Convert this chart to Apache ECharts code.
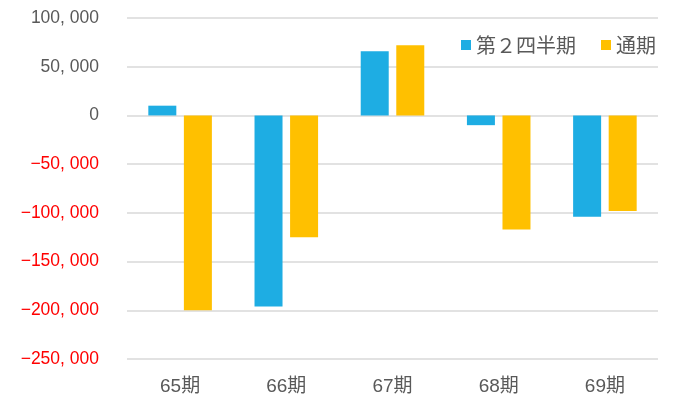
<!DOCTYPE html>
<html>
<head>
<meta charset="utf-8">
<script src="https://cdn.jsdelivr.net/npm/echarts@6/dist/echarts.min.js"></script>
<style>
  html, body { margin: 0; padding: 0; background: #fff; }
  #chart { width: 674px; height: 399px; }
</style>
</head>
<body>
<div id="chart"></div>
<script>
// Periods on the category axis
const periods = ['65期', '66期', '67期', '68期', '69期'];
// Second-quarter results
const secondQuarter = [10000, -196000, 66000, -10000, -104000];
// Full-year results
const fullYear = [-200000, -125000, 72000, -117000, -98000];
// Series names shown in the legend
const seriesNames = ['第２四半期', '通期'];

const numFont = '"Liberation Sans", "Noto Sans CJK JP", sans-serif';
const cjkFont = '"Noto Sans CJK JP", sans-serif';

function fmt(v) {
  if (v === 0) return '0';
  const s = Math.abs(v).toString().replace(/\B(?=(\d{3})+(?!\d))/g, ', ');
  return (v < 0 ? '\u2212' : '') + s;
}

const chart = echarts.init(document.getElementById('chart'), null, { renderer: 'canvas' });
chart.setOption({
  animation: false,
  backgroundColor: '#ffffff',
  grid: { left: 127, right: 16, top: 18, bottom: 40, containLabel: false },
  legend: {
    data: seriesNames,
    right: 13,
    top: 30,
    icon: 'rect',
    itemWidth: 10,
    itemHeight: 10,
    itemGap: 25,
    textStyle: { fontFamily: cjkFont, fontSize: 20, color: '#595959', padding: [0, 0, 0, 0] }
  },
  xAxis: {
    type: 'category',
    data: periods,
    axisLine: { show: false },
    axisTick: { show: false },
    axisLabel: {
      fontFamily: numFont,
      fontSize: 19,
      color: '#595959',
      margin: 18
    }
  },
  yAxis: {
    type: 'value',
    min: -250000,
    max: 100000,
    interval: 50000,
    axisLine: { show: false },
    axisTick: { show: false },
    splitLine: { lineStyle: { color: '#d9d9d9', width: 1.5 } },
    axisLabel: {
      fontFamily: numFont,
      fontSize: 17.5,
      margin: 28,
      padding: [3, 0, 0, 0],
      formatter: fmt,
      color: function (v) { return v < 0 ? '#ff0000' : '#595959'; }
    }
  },
  series: [
    {
      name: seriesNames[0],
      type: 'bar',
      data: secondQuarter,
      barWidth: 28,
      barGap: '27%',
      itemStyle: { color: '#1eade3' }
    },
    {
      name: seriesNames[1],
      type: 'bar',
      data: fullYear,
      barWidth: 28,
      itemStyle: { color: '#ffc000' }
    }
  ]
});
</script>
</body>
</html>
